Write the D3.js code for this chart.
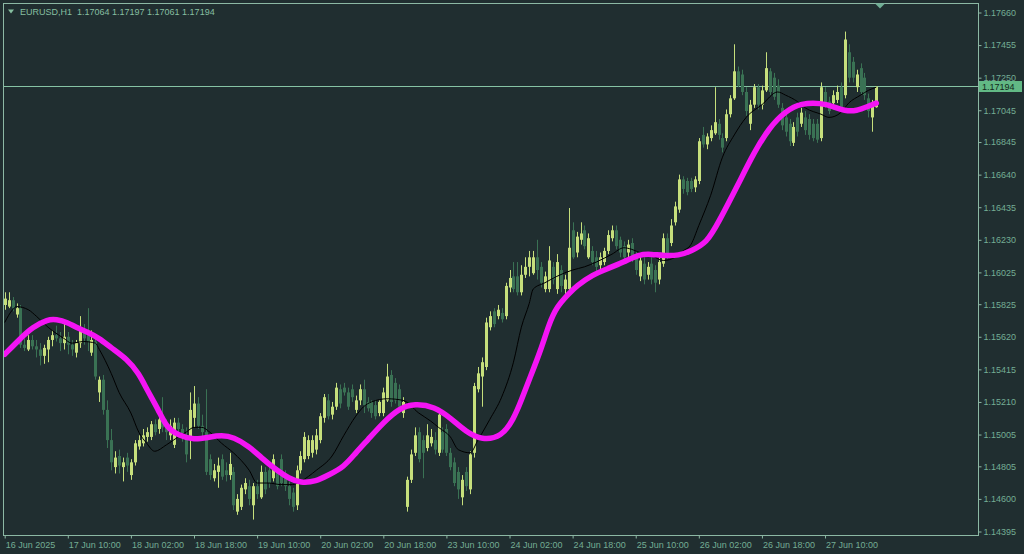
<!DOCTYPE html>
<html><head><meta charset="utf-8">
<script src="https://cdn.jsdelivr.net/npm/d3@7"></script>
<style>
html,body{margin:0;padding:0;background:#202e30;overflow:hidden;}
svg{display:block;}
</style></head>
<body><svg id="c" width="1024" height="554"></svg>
<script>
// ---- data (EURUSD H1, bars from 16 Jun 18:00 to 27 Jun 23:00) ----
const symbolTitle = "EURUSD,H1";
const lastOHLC = ["1.17064", "1.17197", "1.17061", "1.17194"];
const lastPrice = 1.17194;

const open = [
1.1582,1.1581,1.1585,1.1576,1.1580,1.1557,1.1554,1.1560,1.1556,1.1554,
1.1550,1.1554,1.1560,1.1563,1.1561,1.1558,1.1562,1.1557,1.1552,1.1558,
1.1566,1.1563,1.1552,1.1559,1.1527,1.1535,1.1516,1.1497,1.1480,1.1487,
1.1480,1.1486,1.1475,1.1483,1.1493,1.1495,1.1499,1.1499,1.1507,1.1504,
1.1510,1.1505,1.1500,1.1494,1.1508,1.1504,1.1500,1.1497,1.1511,1.1520,
1.1506,1.1502,1.1485,1.1473,1.1477,1.1485,1.1478,1.1475,1.1477,1.1452,
1.1455,1.1466,1.1468,1.1456,1.1468,1.1461,1.1477,1.1478,1.1473,1.1477,
1.1485,1.1474,1.1468,1.1464,1.1456,1.1478,1.1485,1.1487,1.1489,1.1491,
1.1497,1.1511,1.1522,1.1513,1.1518,1.1529,1.1530,1.1527,1.1529,1.1516,
1.1522,1.1529,1.1521,1.1521,1.1519,1.1514,1.1514,1.1522,1.1538,1.1533,
1.1529,1.1514,1.1455,1.1472,1.1489,1.1502,1.1497,1.1492,1.1495,1.1497,
1.1489,1.1502,1.1504,1.1489,1.1483,1.1477,1.1461,1.1477,1.1466,1.1489,
1.1529,1.1537,1.1543,1.1568,1.1578,1.1575,1.1577,1.1575,1.1593,1.1600,
1.1600,1.1590,1.1601,1.1606,1.1602,1.1612,1.1606,1.1592,1.1592,1.1606,
1.1592,1.1604,1.1592,1.1592,1.1629,1.1615,1.1623,1.1629,1.1612,1.1616,
1.1612,1.1607,1.1609,1.1616,1.1624,1.1629,1.1623,1.1619,1.1615,1.1621,
1.1612,1.1600,1.1608,1.1601,1.1608,1.1604,1.1598,1.1608,1.1624,1.1621,
1.1634,1.1642,1.1661,1.1660,1.1660,1.1656,1.1660,1.1689,1.1683,1.1687,
1.1690,1.1696,1.1687,1.1687,1.1702,1.1712,1.1729,1.1727,1.1716,1.1696,
1.1708,1.1719,1.1708,1.1717,1.1729,1.1725,1.1720,1.1706,1.1700,1.1696,
1.1684,1.1700,1.1696,1.1700,1.1699,1.1696,1.1696,1.1687,1.1716,1.1710,
1.1709,1.1711,1.1719,1.1714,1.1741,1.1735,1.1719,1.1731,1.1725,1.1712,
1.1700,1.17064];

const high = [
1.1590,1.1590,1.1587,1.1583,1.1582,1.1561,1.1563,1.1563,1.1560,1.1558,
1.1557,1.1562,1.1566,1.1569,1.1565,1.1571,1.1565,1.1560,1.1560,1.1575,
1.1570,1.1580,1.1566,1.1561,1.1537,1.1538,1.1522,1.1504,1.1490,1.1491,
1.1486,1.1489,1.1485,1.1497,1.1500,1.1504,1.1505,1.1509,1.1510,1.1513,
1.1524,1.1510,1.1510,1.1511,1.1511,1.1507,1.1505,1.1527,1.1531,1.1524,
1.1513,1.1529,1.1488,1.1482,1.1486,1.1488,1.1483,1.1489,1.1480,1.1463,
1.1469,1.1473,1.1472,1.1470,1.1472,1.1481,1.1480,1.1482,1.1488,1.1480,
1.1488,1.1478,1.1471,1.1467,1.1481,1.1490,1.1502,1.1500,1.1500,1.1504,
1.1514,1.1526,1.1526,1.1521,1.1533,1.1532,1.1533,1.1530,1.1532,1.1525,
1.1532,1.1535,1.1524,1.1522,1.1522,1.1522,1.1530,1.1545,1.1541,1.1536,
1.1532,1.1524,1.1474,1.1491,1.1505,1.1505,1.1500,1.1507,1.1504,1.1502,
1.1515,1.1505,1.1507,1.1492,1.1486,1.1480,1.1475,1.1480,1.1490,1.1533,
1.1543,1.1549,1.1574,1.1578,1.1580,1.1582,1.1580,1.1596,1.1604,1.1609,
1.1609,1.1607,1.1612,1.1616,1.1616,1.1623,1.1609,1.1603,1.1619,1.1609,
1.1614,1.1607,1.1601,1.1643,1.1634,1.1628,1.1634,1.1632,1.1627,1.1619,
1.1616,1.1615,1.1618,1.1629,1.1632,1.1632,1.1625,1.1622,1.1623,1.1624,
1.1616,1.1613,1.1612,1.1609,1.1612,1.1607,1.1612,1.1627,1.1627,1.1636,
1.1647,1.1664,1.1663,1.1662,1.1662,1.1663,1.1687,1.1694,1.1690,1.1695,
1.1719,1.1699,1.1690,1.1705,1.1714,1.1746,1.1732,1.1730,1.1719,1.1711,
1.1721,1.1721,1.1720,1.1741,1.1731,1.1728,1.1724,1.1709,1.1703,1.1699,
1.1697,1.1703,1.1706,1.1704,1.1702,1.1699,1.1699,1.1722,1.1719,1.1713,
1.1717,1.1720,1.1722,1.1754,1.1746,1.1738,1.1730,1.1734,1.1728,1.1715,
1.1711,1.17197];

const low = [
1.1579,1.1580,1.1578,1.1574,1.1555,1.1553,1.1553,1.1554,1.1549,1.1544,
1.1545,1.1546,1.1556,1.1559,1.1553,1.1554,1.1551,1.1550,1.1549,1.1555,
1.1557,1.1553,1.1550,1.1535,1.1521,1.1513,1.1492,1.1478,1.1476,1.1476,
1.1471,1.1477,1.1472,1.1481,1.1491,1.1493,1.1496,1.1497,1.1500,1.1501,
1.1502,1.1497,1.1497,1.1492,1.1500,1.1496,1.1483,1.1485,1.1505,1.1504,
1.1497,1.1475,1.1472,1.1471,1.1467,1.1472,1.1471,1.1472,1.1453,1.1450,
1.1453,1.1463,1.1456,1.1447,1.1460,1.1460,1.1463,1.1467,1.1471,1.1466,
1.1468,1.1465,1.1456,1.1452,1.1453,1.1476,1.1483,1.1485,1.1486,1.1488,
1.1495,1.1508,1.1510,1.1510,1.1516,1.1517,1.1525,1.1516,1.1521,1.1514,
1.1519,1.1514,1.1515,1.1511,1.1510,1.1512,1.1512,1.1521,1.1518,1.1520,
1.1515,1.1511,1.1452,1.1470,1.1487,1.1483,1.1473,1.1490,1.1493,1.1488,
1.1487,1.1489,1.1487,1.1478,1.1468,1.1460,1.1456,1.1465,1.1463,1.1486,
1.1527,1.1518,1.1541,1.1566,1.1568,1.1573,1.1571,1.1573,1.1590,1.1590,
1.1588,1.1588,1.1599,1.1600,1.1601,1.1598,1.1593,1.1590,1.1590,1.1595,
1.1589,1.1590,1.1589,1.1589,1.1611,1.1612,1.1620,1.1617,1.1611,1.1607,
1.1603,1.1604,1.1607,1.1614,1.1622,1.1617,1.1612,1.1609,1.1612,1.1609,
1.1601,1.1597,1.1595,1.1598,1.1595,1.1590,1.1595,1.1606,1.1611,1.1619,
1.1632,1.1640,1.1652,1.1651,1.1653,1.1653,1.1658,1.1681,1.1680,1.1685,
1.1689,1.1686,1.1678,1.1685,1.1700,1.1711,1.1719,1.1714,1.1701,1.1692,
1.1706,1.1705,1.1705,1.1716,1.1714,1.1711,1.1706,1.1692,1.1688,1.1682,
1.1682,1.1688,1.1694,1.1689,1.1686,1.1685,1.1684,1.1685,1.1706,1.1702,
1.1707,1.1709,1.1704,1.1712,1.1722,1.1722,1.1716,1.1714,1.1711,1.1700,
1.1691,1.17061];

const close = [
1.1586,1.1585,1.1580,1.1580,1.1557,1.1555,1.1560,1.1556,1.1554,1.1550,
1.1555,1.1560,1.1563,1.1561,1.1558,1.1562,1.1557,1.1554,1.1558,1.1568,
1.1561,1.1559,1.1560,1.1537,1.1535,1.1516,1.1497,1.1483,1.1486,1.1481,
1.1483,1.1481,1.1483,1.1495,1.1497,1.1500,1.1502,1.1507,1.1502,1.1510,
1.1505,1.1502,1.1506,1.1508,1.1504,1.1500,1.1488,1.1516,1.1520,1.1506,
1.1502,1.1477,1.1475,1.1478,1.1481,1.1474,1.1475,1.1482,1.1456,1.1460,
1.1467,1.1470,1.1460,1.1468,1.1463,1.1477,1.1466,1.1470,1.1485,1.1468,
1.1470,1.1468,1.1460,1.1455,1.1478,1.1487,1.1499,1.1497,1.1497,1.1500,
1.1512,1.1524,1.1512,1.1518,1.1530,1.1520,1.1527,1.1518,1.1524,1.1522,
1.1529,1.1519,1.1517,1.1514,1.1512,1.1521,1.1527,1.1537,1.1521,1.1522,
1.1518,1.1521,1.1472,1.1488,1.1500,1.1485,1.1489,1.1500,1.1499,1.1491,
1.1513,1.1491,1.1489,1.1480,1.1470,1.1466,1.1472,1.1468,1.1488,1.1531,
1.1539,1.1546,1.1571,1.1575,1.1570,1.1579,1.1573,1.1594,1.1599,1.1592,
1.1590,1.1601,1.1606,1.1612,1.1612,1.1604,1.1596,1.1600,1.1610,1.1598,
1.1609,1.1594,1.1598,1.1618,1.1612,1.1625,1.1627,1.1619,1.1624,1.1609,
1.1606,1.1612,1.1616,1.1626,1.1629,1.1619,1.1615,1.1612,1.1620,1.1612,
1.1604,1.1610,1.1598,1.1606,1.1598,1.1596,1.1609,1.1624,1.1612,1.1632,
1.1644,1.1661,1.1655,1.1653,1.1655,1.1661,1.1685,1.1683,1.1688,1.1692,
1.1697,1.1689,1.1681,1.1702,1.1712,1.1729,1.1720,1.1716,1.1704,1.1708,
1.1719,1.1708,1.1717,1.1731,1.1716,1.1713,1.1708,1.1695,1.1691,1.1685,
1.1694,1.1691,1.1703,1.1692,1.1689,1.1687,1.1686,1.1719,1.1708,1.1704,
1.1714,1.1716,1.1706,1.1749,1.1725,1.1725,1.1727,1.1716,1.1714,1.1704,
1.1707,1.17194];

// thick magenta smoothed average, read at selected bars
const smoothIdx = [0,4,7,11,13,16,18,21,24,27,31,34,36,39,41,44,48,52,55,58,62,65,69,72,75,79,82,86,89,92,96,100,104,109,113,117,121,126,129,131,133,136,138,140,143,145,149,153,157,161,164,167,171,174,178,181,186,190,194,198,202,207,210,213,216,219,221];
const smoothVal = [1.1551,1.1561,1.1568,1.1573,1.1573,1.1571,1.1568,1.1565,1.1561,1.1555,1.1548,1.1539,1.1529,1.1516,1.1505,1.1500,1.1497,1.1499,1.1500,1.1499,1.1493,1.1486,1.1478,1.1473,1.1470,1.1471,1.1475,1.1480,1.1489,1.1497,1.1508,1.1517,1.1520,1.1518,1.1511,1.1502,1.1497,1.1499,1.1510,1.1522,1.1535,1.1554,1.1570,1.1581,1.1589,1.1594,1.1601,1.1605,1.1609,1.1614,1.1614,1.1613,1.1613,1.1616,1.1621,1.1634,1.1658,1.1678,1.1694,1.1704,1.1709,1.1709,1.1707,1.1704,1.1704,1.1707,1.1709];

// thin black moving average, read at selected bars
const maIdx = [0,2,3,6,8,11,15,17,20,23,24,27,29,32,34,36,38,41,44,46,48,50,52,55,58,62,64,67,70,73,75,79,83,86,89,91,93,97,101,105,108,110,113,115,118,120,123,126,129,131,133,134,137,140,144,147,150,154,157,159,162,164,167,170,172,174,176,179,182,185,188,192,196,198,201,203,207,209,212,214,217,219,221];
const maVal = [1.1571,1.1579,1.1581,1.1579,1.1575,1.1568,1.1561,1.1558,1.1559,1.1558,1.1554,1.1539,1.1527,1.1514,1.1502,1.1495,1.1490,1.1494,1.1499,1.1502,1.1505,1.1505,1.1502,1.1495,1.1489,1.1478,1.1470,1.1470,1.1469,1.1469,1.1471,1.1478,1.1487,1.1500,1.1512,1.1518,1.1521,1.1523,1.1522,1.1514,1.1509,1.1505,1.1499,1.1491,1.1489,1.1497,1.1510,1.1524,1.1546,1.1568,1.1583,1.1592,1.1596,1.1600,1.1604,1.1606,1.1609,1.1614,1.1618,1.1617,1.1614,1.1613,1.1610,1.1612,1.1616,1.1620,1.1632,1.1651,1.1675,1.1689,1.1700,1.1708,1.1716,1.1714,1.1710,1.1706,1.1702,1.1700,1.1703,1.1709,1.1714,1.1717,1.1719];

// axes
const priceTicks = ["1.17660","1.17455","1.17250","1.17045","1.16845","1.16640","1.16435","1.16230","1.16025","1.15825","1.15620","1.15415","1.15210","1.15005","1.14805","1.14600","1.14395"];
const timeTickIdx = [0,16,32,48,64,80,96,112,128,144,160,176,192,208];
const timeLabels = ["16 Jun 2025","17 Jun 10:00","18 Jun 02:00","18 Jun 18:00","19 Jun 10:00","20 Jun 02:00","20 Jun 18:00","23 Jun 10:00","24 Jun 02:00","24 Jun 18:00","25 Jun 10:00","26 Jun 02:00","26 Jun 18:00","27 Jun 10:00"];

// ---- drawing ----
const W = 1024, H = 554;
const BG = "#202e30", FRAME = "#8cb8a4", TXT = "#74ad94";
const BULL = "#c6df7c", BEAR = "#3a7254";
const FONT = '"Liberation Sans", Arial, sans-serif';
const svg = d3.select("#c");
svg.append("rect").attr("width", W).attr("height", H).attr("fill", BG);

const n = close.length;
const x = d3.scaleLinear().domain([0, n - 1]).range([4.7, 876.3]);
const y = d3.scaleLinear().domain([1.14395, 1.17660]).range([531.5, 12.5]);

svg.append("clipPath").attr("id", "pc").append("rect")
  .attr("x", 4).attr("y", 4).attr("width", 974).attr("height", 531);
const plot = svg.append("g").attr("clip-path", "url(#pc)");

// current price line
const py = Math.round(y(lastPrice));
plot.append("line").attr("x1", 3.5).attr("x2", 978.5)
  .attr("y1", py - 0.5).attr("y2", py - 0.5)
  .attr("stroke", "#86c3a4").attr("stroke-width", 1);

// candles
const bars = d3.range(n);
const cg = plot.append("g");
cg.selectAll("line.w").data(bars).join("line").attr("class", "w")
  .attr("x1", i => Math.round(x(i)) + 0.5).attr("x2", i => Math.round(x(i)) + 0.5)
  .attr("y1", i => y(high[i])).attr("y2", i => y(low[i]))
  .attr("stroke", i => close[i] >= open[i] ? BULL : BEAR).attr("stroke-width", 1);
cg.selectAll("rect.b").data(bars).join("rect").attr("class", "b")
  .attr("x", i => Math.round(x(i)) - 1)
  .attr("width", 3)
  .attr("y", i => y(Math.max(open[i], close[i])))
  .attr("height", i => Math.max(1, Math.abs(y(open[i]) - y(close[i]))))
  .attr("fill", i => close[i] >= open[i] ? BULL : BEAR);

// black MA
plot.append("path")
  .datum(maIdx.map((d, k) => [d, maVal[k]]))
  .attr("fill", "none").attr("stroke", "#000").attr("stroke-width", 1)
  .attr("d", d3.line().x(d => x(d[0])).y(d => y(d[1])).curve(d3.curveMonotoneX));

// magenta smoothed line
plot.append("path")
  .datum(smoothIdx.map((d, k) => [d, smoothVal[k]]))
  .attr("fill", "none").attr("stroke", "#f414f4").attr("stroke-width", 5.5)
  .attr("stroke-linecap", "round").attr("stroke-linejoin", "round")
  .attr("d", d3.line().x(d => x(d[0])).y(d => y(d[1])).curve(d3.curveBasis));

// frame
svg.append("rect").attr("x", 3.5).attr("y", 3.5).attr("width", 975).attr("height", 532)
  .attr("fill", "none").attr("stroke", FRAME).attr("stroke-width", 1);

// right price axis
const yAxis = d3.axisRight(y).tickValues(priceTicks.map(Number))
  .tickFormat((d, i) => priceTicks[i]).tickSize(3).tickPadding(2);
const ya = svg.append("g").attr("transform", "translate(978.5,0)").call(yAxis);
ya.select(".domain").remove();
ya.selectAll(".tick line").attr("stroke", FRAME);
ya.selectAll(".tick text").attr("fill", TXT).attr("font-family", FONT).attr("font-size", 9);

// bottom time axis
const xAxis = d3.axisBottom(x).tickValues(timeTickIdx)
  .tickFormat((d, i) => timeLabels[i]).tickSize(3).tickPadding(3);
const xa = svg.append("g").attr("transform", "translate(0,535.5)").call(xAxis);
xa.select(".domain").remove();
xa.selectAll(".tick line").attr("stroke", FRAME);
xa.selectAll(".tick text").attr("fill", TXT).attr("font-family", FONT).attr("font-size", 9)
  .attr("text-anchor", "start").attr("dx", 0.5);

// current price label
svg.append("rect").attr("x", 979).attr("y", py - 6).attr("width", 43).attr("height", 11)
  .attr("fill", "#62b985");
svg.append("text").attr("x", 982).attr("y", py + 3).text(lastOHLC[3])
  .attr("fill", "#12281c").attr("font-family", FONT).attr("font-size", 9);

// title
svg.append("path").attr("d", "M8,9.5 L14,9.5 L11,13.5 Z").attr("fill", "#86bfa0");
svg.append("text").attr("x", 20).attr("y", 15)
  .text(symbolTitle + "  " + lastOHLC.join(" "))
  .attr("fill", "#86bfa0").attr("font-family", FONT).attr("font-size", 9)
  .style("white-space", "pre");

// chart-shift marker
svg.append("path").attr("d", "M875,3.5 L885,3.5 L880,8.5 Z").attr("fill", "#6fae94");
</script>
</body></html>
